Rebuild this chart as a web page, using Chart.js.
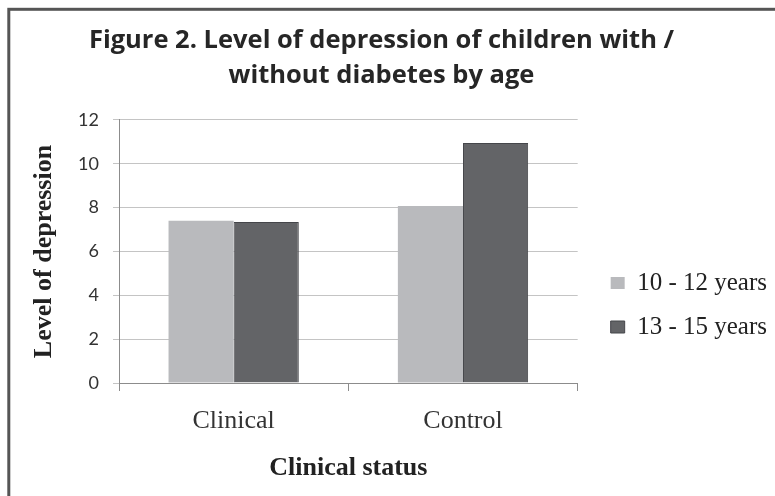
<!DOCTYPE html>
<html>
<head>
<meta charset="utf-8">
<script src="https://cdn.jsdelivr.net/npm/chart.js@4/dist/chart.umd.min.js"></script>
<style>
  html, body { margin: 0; padding: 0; background: #ffffff; }
  #wrap { width: 775px; height: 496px; }
</style>
</head>
<body>
<div id="wrap"><canvas id="c" width="775" height="496"></canvas></div>
<script>
// Categories and series
const categories = ['Clinical', 'Control'];
const seriesNames = ['10 - 12 years', '13 - 15 years'];
const ages10to12 = [7.40, 8.07];
const ages13to15 = [7.34, 10.95];
const yTicks = [0, 2, 4, 6, 8, 10, 12];

const titleLines = ['Figure 2. Level of depression of children with /', 'without diabetes by age'];
const yTitle = 'Level of depression';
const xTitle = 'Clinical status';

// Frame drawn around the whole figure (runs off the right and bottom edges)
const framePlugin = {
  id: 'frame',
  beforeDraw(chart) {
    const ctx = chart.ctx;
    ctx.save();
    ctx.fillStyle = '#ffffff';
    ctx.fillRect(0, 0, chart.width, chart.height);
    ctx.strokeStyle = '#555555';
    ctx.lineWidth = 3;
    ctx.strokeRect(8.8, 9.3, chart.width + 20, chart.height + 40);
    ctx.restore();
  }
};

// Place the legend a little away from the plot and lower down
const legendShift = {
  id: 'legendShift',
  afterLayout(chart) {
    const lg = chart.legend;
    if (lg) {
      lg.left += 14; lg.right += 14;
      lg.top += 57; lg.bottom += 57;
    }
  }
};

const serif = "'Liberation Serif', 'Times New Roman', serif";
const sans = "Lato, 'Open Sans', sans-serif";

new Chart(document.getElementById('c'), {
  type: 'bar',
  data: {
    labels: categories,
    datasets: [
      {
        label: seriesNames[0],
        data: ages10to12,
        backgroundColor: '#b9babd',
        borderColor: '#a9aaad',
        borderWidth: 0
      },
      {
        label: seriesNames[1],
        data: ages13to15,
        backgroundColor: '#636467',
        borderColor: '#45464a',
        borderWidth: 1
      }
    ]
  },
  plugins: [framePlugin, legendShift],
  options: {
    responsive: false,
    animation: false,
    devicePixelRatio: 1,
    layout: { padding: { left: 0, right: 12, top: 0, bottom: 0 } },
    datasets: {
      bar: { categoryPercentage: 0.568, barPercentage: 1.0 }
    },
    plugins: {
      title: {
        display: true,
        text: titleLines,
        color: '#262626',
        font: { family: "'Open Sans', Lato, sans-serif", size: 25.5, weight: 'bold', lineHeight: 1.37 },
        padding: { top: 23.5, bottom: 26.6 }
      },
      legend: {
        display: true,
        position: 'right',
        labels: {
          color: '#222222',
          font: { family: serif, size: 25 },
          boxWidth: 14,
          boxHeight: 12,
          padding: 19
        }
      },
      tooltip: { enabled: false }
    },
    scales: {
      x: {
        grid: {
          display: true,
          drawOnChartArea: false,
          drawTicks: true,
          tickLength: 8,
          color: '#8c8c8c'
        },
        border: { display: true, color: '#8c8c8c', width: 1 },
        ticks: {
          color: '#333333',
          font: { family: serif, size: 26 },
          padding: 15
        },
        title: {
          display: true,
          text: xTitle,
          color: '#222222',
          font: { family: serif, size: 26, weight: 'bold' },
          padding: { top: 0, bottom: 12 }
        },
        afterFit(scale) { scale.height = 113; }
      },
      y: {
        min: 0,
        max: 12,
        afterBuildTicks(scale) { scale.ticks = yTicks.map(v => ({ value: v })); },
        grid: {
          color: '#c4c4c4',
          lineWidth: 1,
          drawTicks: true,
          tickLength: 6
        },
        border: { display: true, color: '#8c8c8c', width: 1 },
        ticks: {
          color: '#333333',
          font: { family: sans, size: 18 },
          padding: 14
        },
        title: {
          display: true,
          text: yTitle,
          color: '#222222',
          font: { family: serif, size: 26, weight: 'bold' },
          padding: { top: 29, bottom: 0 }
        },
        afterFit(scale) { scale.width = 119; }
      }
    }
  }
});
</script>
</body>
</html>
